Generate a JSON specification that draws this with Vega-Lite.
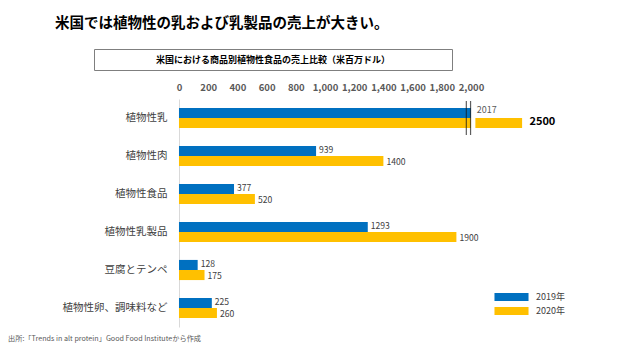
{
  "$schema": "https://vega.github.io/schema/vega-lite/v6.json",
  "autosize": {"type": "pad"},
  "padding": {"left": 8, "top": 15, "right": 0, "bottom": 0},
  "background": "white",
  "config": {
    "font": "Noto Sans CJK JP",
    "view": {"stroke": null},
    "legend": {"labelFont": "Noto Sans CJK JP"},
    "axisX": {"labelOverlap": false, "labelFlush": false, "domain": false, "ticks": false, "grid": false, "labelFontSize": 9.5, "labelFontWeight": "bold", "labelColor": "#595959", "labelPadding": 7, "title": null}
  },
  "title": {
    "text": "米国では植物性の乳および乳製品の売上が大きい。",
    "anchor": "start",
    "frame": "bounds",
    "dx": 47,
    "fontSize": 14.5,
    "fontWeight": "bold",
    "color": "#000000",
    "offset": 17.5,
    "font": "Noto Sans CJK JP"
  },
  "spacing": 11,
  "vconcat": [
    {
      "width": 358,
      "height": 21,
      "data": {"values": [{"t": "米国における商品別植物性食品の売上比較（米百万ドル）"}]},
      "view": {"stroke": "#7f7f7f", "strokeWidth": 1},
      "mark": {"type": "text", "fontSize": 9, "fontWeight": "bold", "color": "#000000", "baseline": "middle"},
      "encoding": {
        "text": {"field": "t"},
        "y": {"field": "t", "type": "nominal", "axis": null}
      }
    },
    {
      "width": 450,
      "height": 228,
      "data": {
        "values": [
          {"cat": "植物性乳", "year": "2019年", "value": 2017},
          {"cat": "植物性乳", "year": "2020年", "value": 2500},
          {"cat": "植物性肉", "year": "2019年", "value": 939},
          {"cat": "植物性肉", "year": "2020年", "value": 1400},
          {"cat": "植物性食品", "year": "2019年", "value": 377},
          {"cat": "植物性食品", "year": "2020年", "value": 520},
          {"cat": "植物性乳製品", "year": "2019年", "value": 1293},
          {"cat": "植物性乳製品", "year": "2020年", "value": 1900},
          {"cat": "豆腐とテンペ", "year": "2019年", "value": 128},
          {"cat": "豆腐とテンペ", "year": "2020年", "value": 175},
          {"cat": "植物性卵、調味料など", "year": "2019年", "value": 225},
          {"cat": "植物性卵、調味料など", "year": "2020年", "value": 260}
        ]
      },
      "title": {
        "text": "出所:「Trends in alt protein」Good Food Instituteから作成",
        "orient": "bottom",
        "anchor": "start",
        "frame": "bounds",
        "dx": -54,
        "fontSize": 7.2,
        "fontWeight": "normal",
        "color": "#595959",
        "offset": 8
      },
      "encoding": {
        "y": {
          "field": "cat",
          "type": "nominal",
          "sort": ["植物性乳", "植物性肉", "植物性食品", "植物性乳製品", "豆腐とテンペ", "植物性卵、調味料など"],
          "scale": {"paddingInner": 0.47, "paddingOuter": 0.235},
          "axis": {
            "title": null,
            "offset": -85,
            "domain": true,
            "domainColor": "#d9d9d9",
            "domainWidth": 1,
            "ticks": false,
            "tickSize": 0,
            "labelPadding": 12,
            "labelFontSize": 10.5,
            "labelColor": "#404040",
            "labelLimit": 200
          }
        }
      },
      "layer": [
        {
          "transform": [{"filter": "datum.value <= 2000"}],
          "mark": {"type": "bar"},
          "encoding": {
            "x": {
              "field": "value",
              "type": "quantitative",
              "title": null,
              "scale": {"domain": [-582, 2500], "nice": false, "zero": false},
              "axis": {
                "orient": "top",
                "values": [0, 200, 400, 600, 800, 1000, 1200, 1400, 1600, 1800, 2000],
                "labelExpr": "format(datum.value, ',')",
                "labelOverlap": false,
                "title": null
              }
            },
            "yOffset": {"field": "year", "type": "nominal"},
            "color": {
              "field": "year",
              "type": "nominal",
              "scale": {"domain": ["2019年", "2020年"], "range": ["#0070C0", "#FFC000"]},
              "legend": {
                "title": null,
                "orient": "none",
                "legendX": 410,
                "legendY": 240.5,
                "symbolType": "M-2.27,-0.53H2.27V0.53H-2.27Z",
                "symbolSize": 225,
                "symbolStrokeWidth": 0,
                "labelOffset": 17,
                "labelFontSize": 9,
                "labelColor": "#404040",
                "rowPadding": 1
              }
            }
          }
        },
        {
          "transform": [{"filter": "datum.value > 2000"}],
          "mark": {"type": "bar"},
          "encoding": {
            "x": {"datum": 0, "type": "quantitative", "title": null},
            "x2": {"datum": 2000},
            "yOffset": {"field": "year", "type": "nominal"},
            "color": {"field": "year", "type": "nominal"}
          }
        },
        {
          "transform": [{"filter": "datum.value > 2000 && datum.year == '2020年'"}],
          "mark": {"type": "bar", "color": "#FFC000"},
          "encoding": {
            "x": {"datum": 2030, "type": "quantitative", "title": null},
            "x2": {"datum": 2350},
            "yOffset": {"field": "year", "type": "nominal"}
          }
        },
        {
          "transform": [{"filter": "datum.value > 2000 && datum.year == '2019年'"}],
          "mark": {"type": "tick", "thickness": 1.2, "size": 34, "color": "#1a1a1a"},
          "encoding": {
            "x": {"datum": 1968, "type": "quantitative", "title": null}
          }
        },
        {
          "transform": [{"filter": "datum.value > 2000 && datum.year == '2019年'"}],
          "mark": {"type": "tick", "thickness": 1.2, "size": 34, "color": "#1a1a1a"},
          "encoding": {
            "x": {"datum": 1997, "type": "quantitative", "title": null}
          }
        },
        {
          "transform": [{"filter": "datum.value <= 2000 && datum.year == '2019年'"}],
          "mark": {"type": "text", "align": "left", "baseline": "middle", "dx": 3, "dy": -1, "fontSize": 8.6, "color": "#404040"},
          "encoding": {
            "x": {"field": "value", "type": "quantitative", "title": null},
            "yOffset": {"field": "year", "type": "nominal"},
            "text": {"field": "value", "type": "quantitative", "format": "d"}
          }
        },
        {
          "transform": [{"filter": "datum.value <= 2000 && datum.year == '2020年'"}],
          "mark": {"type": "text", "align": "left", "baseline": "middle", "dx": 3, "dy": 1, "fontSize": 8.6, "color": "#404040"},
          "encoding": {
            "x": {"field": "value", "type": "quantitative", "title": null},
            "yOffset": {"field": "year", "type": "nominal"},
            "text": {"field": "value", "type": "quantitative", "format": "d"}
          }
        },
        {
          "transform": [{"filter": "datum.value > 2000 && datum.year == '2019年'"}],
          "mark": {"type": "text", "align": "left", "baseline": "middle", "dy": -3, "fontSize": 9, "color": "#595959"},
          "encoding": {
            "x": {"datum": 2040, "type": "quantitative", "title": null},
            "yOffset": {"field": "year", "type": "nominal"},
            "text": {"field": "value", "type": "quantitative", "format": "d"}
          }
        },
        {
          "transform": [{"filter": "datum.value > 2000 && datum.year == '2020年'"}],
          "mark": {"type": "text", "align": "left", "baseline": "middle", "dy": -1, "fontSize": 11, "fontWeight": "bold", "color": "#000000"},
          "encoding": {
            "x": {"datum": 2400, "type": "quantitative", "title": null},
            "yOffset": {"field": "year", "type": "nominal"},
            "text": {"field": "value", "type": "quantitative", "format": "d"}
          }
        }
      ]
    }
  ]
}
